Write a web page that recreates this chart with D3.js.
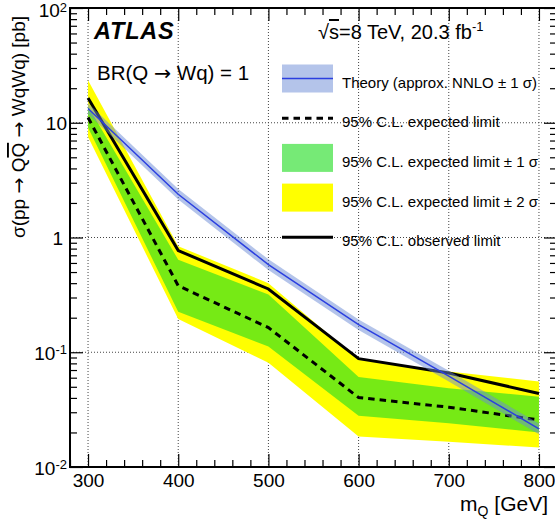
<!DOCTYPE html>
<html>
<head>
<meta charset="utf-8">
<script src="https://cdn.jsdelivr.net/npm/d3@7"></script>
<style>
  body { margin: 0; background: #fff; }
  text { font-family: "Liberation Sans", Arial, sans-serif; fill: #000; }
  .arr { font-family: "DejaVu Sans", sans-serif; }
</style>
</head>
<body>
<script>
// heavy quark mass points [GeV]
const masses = [300, 400, 500, 600, 700, 800];
// cross-section limits [pb]
const observed = [16.4, 0.77, 0.356, 0.088, 0.066, 0.0437];
const expected = [11.1, 0.38, 0.164, 0.0403, 0.0332, 0.0257];
const exp1Up = [13.9, 0.64, 0.318, 0.061, 0.0486, 0.041];
const exp1Dn = [9.1, 0.225, 0.112, 0.0279, 0.0241, 0.020];
const exp2Up = [23.5, 0.84, 0.40, 0.086, 0.068, 0.0556];
const exp2Dn = [7.5, 0.195, 0.081, 0.0184, 0.0166, 0.0148];
// theory (approx. NNLO) and its +-1 sigma band
const theory = [13.3, 2.38, 0.58, 0.174, 0.062, 0.0215];
const theoryUp = [14.8, 2.64, 0.645, 0.193, 0.069, 0.0239];
const theoryDn = [11.9, 2.14, 0.52, 0.156, 0.0555, 0.0193];

const xMajor = [300, 400, 500, 600, 700, 800];
const yMajor = [0.01, 0.1, 1, 10, 100];
const yLabelExp = ['-2', '-1', '', '', '2'];
const legendLabels = [
  'Theory (approx. NNLO \u00b1 1 \u03c3)',
  '95% C.L. expected limit',
  '95% C.L. expected limit \u00b1 1 \u03c3',
  '95% C.L. expected limit \u00b1 2 \u03c3',
  '95% C.L. observed limit'
];

const width = 555, height = 527;
const margin = { top: 8, right: -2, bottom: 60, left: 70 };

const svg = d3.select('body').append('svg')
  .attr('width', width).attr('height', height);

const x = d3.scaleLinear().domain([280, 820]).range([margin.left, width - margin.right]);
const y = d3.scaleLog().domain([0.01, 100]).range([height - margin.bottom, margin.top]);

svg.append('defs').append('clipPath').attr('id', 'plotClip')
  .append('rect').attr('x', x(280)).attr('y', y(100))
  .attr('width', x(820) - x(280)).attr('height', y(0.01) - y(100));

// semi-transparent fills (ROOT dithered look)
const green = { fill: '#22dd22', op: 0.62 };
const blue = { fill: '#6a8ad6', op: 0.5 };

// grid
const grid = svg.append('g').attr('stroke', '#444').attr('stroke-width', 1).attr('stroke-dasharray', '1,2');
grid.selectAll('.gx').data(xMajor).join('line')
  .attr('x1', d => x(d)).attr('x2', d => x(d)).attr('y1', y(100)).attr('y2', y(0.01));
grid.selectAll('.gy').data(yMajor.slice(1)).join('line')
  .attr('x1', x(280)).attr('x2', x(820)).attr('y1', d => y(d)).attr('y2', d => y(d));

const plot = svg.append('g').attr('clip-path', 'url(#plotClip)');
const idx = d3.range(masses.length);

const band = (up, dn) => d3.area()
  .x(i => x(masses[i])).y0(i => y(dn[i])).y1(i => y(up[i]));
const line = (vals) => d3.line().x(i => x(masses[i])).y(i => y(vals[i]));

plot.append('path').datum(idx).attr('d', band(exp2Up, exp2Dn)).attr('fill', '#ffff00');
plot.append('path').datum(idx).attr('d', band(exp1Up, exp1Dn))
  .attr('fill', green.fill).attr('fill-opacity', green.op);
plot.append('path').datum(idx).attr('d', line(expected))
  .attr('fill', 'none').attr('stroke', '#000').attr('stroke-width', 3).attr('stroke-dasharray', '6.5,5');
plot.append('path').datum(idx).attr('d', line(observed))
  .attr('fill', 'none').attr('stroke', '#000').attr('stroke-width', 3);
plot.append('path').datum(idx).attr('d', band(theoryUp, theoryDn))
  .attr('fill', blue.fill).attr('fill-opacity', blue.op);
plot.append('path').datum(idx).attr('d', line(theory))
  .attr('fill', 'none').attr('stroke', '#2b3fe0').attr('stroke-width', 1.5);

// axes, ticks pointing inwards
const xMinor = d3.range(280, 821, 20).filter(v => v % 100 !== 0);
const yMinor = [];
[0.01, 0.1, 1, 10].forEach(d => { for (let k = 2; k <= 9; k++) yMinor.push(d * k); });

const axes = svg.append('g');
const styleAxis = g => { g.select('.domain').remove(); g.selectAll('line').attr('stroke', '#000').attr('stroke-width', 1.2); };

axes.append('g').attr('transform', `translate(0,${y(0.01)})`)
  .call(d3.axisBottom(x).tickValues(xMajor).tickSizeInner(-13).tickSizeOuter(0).tickPadding(6.5))
  .call(styleAxis)
  .call(g => g.selectAll('text').attr('font-size', 19).attr('font-family', '"Liberation Sans", Arial, sans-serif'));
axes.append('g').attr('transform', `translate(0,${y(0.01)})`)
  .call(d3.axisBottom(x).tickValues(xMinor).tickSizeInner(-7).tickSizeOuter(0).tickFormat(''))
  .call(styleAxis);
axes.append('g').attr('transform', `translate(0,${y(100)})`)
  .call(d3.axisTop(x).tickValues(xMajor).tickSizeInner(-13).tickSizeOuter(0).tickFormat(''))
  .call(styleAxis);
axes.append('g').attr('transform', `translate(0,${y(100)})`)
  .call(d3.axisTop(x).tickValues(xMinor).tickSizeInner(-7).tickSizeOuter(0).tickFormat(''))
  .call(styleAxis);
axes.append('g').attr('transform', `translate(${x(280)},0)`)
  .call(d3.axisLeft(y).tickValues(yMajor).tickSizeInner(-13).tickSizeOuter(0).tickFormat(''))
  .call(styleAxis);
axes.append('g').attr('transform', `translate(${x(280)},0)`)
  .call(d3.axisLeft(y).tickValues(yMinor).tickSizeInner(-7).tickSizeOuter(0).tickFormat(''))
  .call(styleAxis);
axes.append('g').attr('transform', `translate(${x(820)},0)`)
  .call(d3.axisRight(y).tickValues(yMajor).tickSizeInner(-13).tickSizeOuter(0).tickFormat(''))
  .call(styleAxis);
axes.append('g').attr('transform', `translate(${x(820)},0)`)
  .call(d3.axisRight(y).tickValues(yMinor).tickSizeInner(-7).tickSizeOuter(0).tickFormat(''))
  .call(styleAxis);

// frame
svg.append('rect').attr('x', x(280)).attr('y', y(100))
  .attr('width', x(820) - x(280)).attr('height', y(0.01) - y(100))
  .attr('fill', 'none').attr('stroke', '#000').attr('stroke-width', 2);

// y tick labels with exponents
const yl = svg.append('g').attr('font-size', 19).attr('text-anchor', 'end');
yMajor.forEach((v, i) => {
  const t = yl.append('text').attr('x', 67).attr('y', y(v) + (v === 100 ? 9 : 7.5));
  if (v === 1) { t.attr('x', 63).text('1'); return; }
  t.append('tspan').text('10');
  if (yLabelExp[i]) t.append('tspan').attr('dy', -5.5).attr('font-size', 13).text(yLabelExp[i]);
});

// axis titles
const yt = svg.append('text').attr('font-size', 19).attr('text-anchor', 'end')
  .attr('transform', 'translate(25,16) rotate(-90)');
yt.append('tspan').text('\u03c3(pp ');
yt.append('tspan').attr('class', 'arr').text('\u2192');
yt.append('tspan').text(' Q');
yt.append('tspan').style('text-decoration', 'overline').text('Q');
yt.append('tspan').text(' ');
yt.append('tspan').attr('class', 'arr').text('\u2192');
yt.append('tspan').text(' WqWq) [pb]');

const xt = svg.append('text').attr('font-size', 21).attr('text-anchor', 'end')
  .attr('x', 548).attr('y', 511);
xt.append('tspan').text('m');
xt.append('tspan').attr('font-size', 14).attr('dy', 5).text('Q');
xt.append('tspan').attr('dy', -5).text(' [GeV]');

// labels
svg.append('text').attr('x', 94).attr('y', 39).attr('font-size', 23.5).attr('letter-spacing', 0.8)
  .attr('font-weight', 'bold').attr('font-style', 'italic').text('ATLAS');
const br = svg.append('text').attr('x', 97).attr('y', 80).attr('font-size', 20.5);
br.append('tspan').text('BR(Q ');
br.append('tspan').attr('class', 'arr').text('\u2192');
br.append('tspan').text(' Wq) = 1');
const lumi = svg.append('text').attr('x', 318).attr('y', 39).attr('font-size', 20);
lumi.append('tspan').text('\u221a');
lumi.append('tspan').style('text-decoration', 'overline').text('s');
lumi.append('tspan').text('=8 TeV, 20.3 fb');
lumi.append('tspan').attr('dy', -8).attr('font-size', 13).text('-1');

// legend
const leg = svg.append('g');
const rowY = i => 78.5 + 39.7 * i;
const bx = 282, bw = 51, bh = 28;
leg.append('rect').attr('x', bx).attr('y', rowY(0) - 14).attr('width', bw).attr('height', bh)
  .attr('fill', blue.fill).attr('fill-opacity', blue.op);
leg.append('line').attr('x1', bx).attr('x2', bx + bw).attr('y1', rowY(0)).attr('y2', rowY(0))
  .attr('stroke', '#2b3fe0').attr('stroke-width', 1.5);
leg.append('line').attr('x1', bx).attr('x2', bx + bw).attr('y1', rowY(1)).attr('y2', rowY(1))
  .attr('stroke', '#000').attr('stroke-width', 3).attr('stroke-dasharray', '6.5,5');
leg.append('rect').attr('x', bx).attr('y', rowY(2) - 14).attr('width', bw).attr('height', bh)
  .attr('fill', green.fill).attr('fill-opacity', green.op);
leg.append('rect').attr('x', bx).attr('y', rowY(3) - 14).attr('width', bw).attr('height', bh).attr('fill', '#ffff00');
leg.append('line').attr('x1', bx).attr('x2', bx + bw).attr('y1', rowY(4)).attr('y2', rowY(4))
  .attr('stroke', '#000').attr('stroke-width', 3);
leg.selectAll('.lt').data(legendLabels).join('text')
  .attr('x', 342).attr('y', (d, i) => rowY(i) + 9).attr('font-size', 15).text(d => d);
</script>
</body>
</html>
